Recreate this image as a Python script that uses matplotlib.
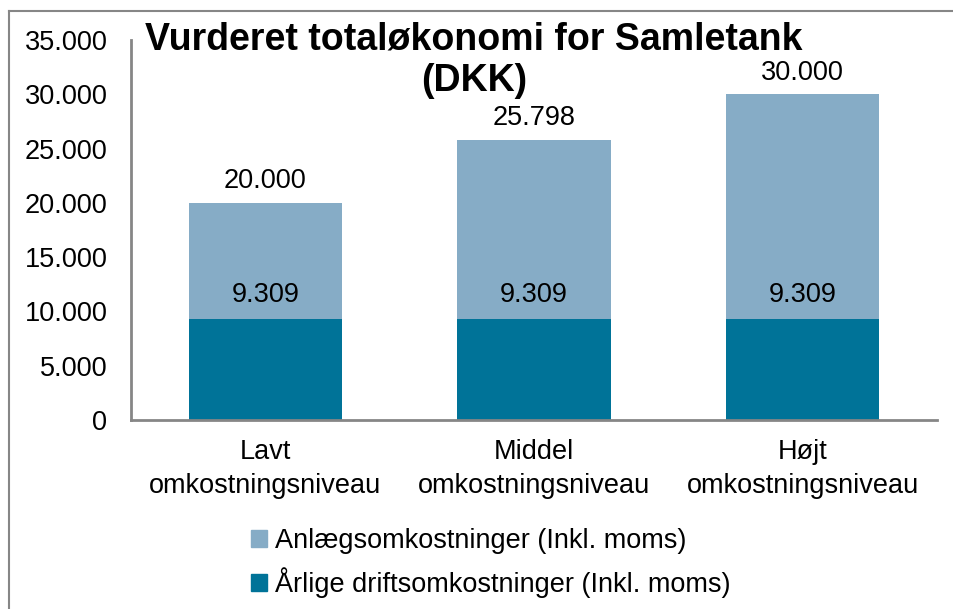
import matplotlib
matplotlib.use("Agg")
import matplotlib.pyplot as plt
from matplotlib.lines import Line2D
from matplotlib.patches import Patch
from matplotlib.ticker import FuncFormatter

plt.rcParams['font.family'] = ['Liberation Sans', 'DejaVu Sans']

categories = ["Lavt\nomkostningsniveau", "Middel\nomkostningsniveau", "Højt\nomkostningsniveau"]
drift = [9309, 9309, 9309]            # Årlige driftsomkostninger
totals = [20000, 25798, 30000]        # total (bar top)
anlaeg = [t - d for t, d in zip(totals, drift)]
series_names = ["Anlægsomkostninger (Inkl. moms)", "Årlige driftsomkostninger (Inkl. moms)"]
title = "Vurderet totaløkonomi for Samletank\n(DKK)"

c_light = "#86ACC6"
c_dark = "#007398"
grey = "#868686"
fs = 19.5

W, H = 954, 609
fig = plt.figure(figsize=(W / 100, H / 100), dpi=100)

# outer border (left and top visible)
fig.add_artist(Line2D([9.5 / W, 9.5 / W], [0, 1 - 10.5 / H], transform=fig.transFigure,
                      color=grey, linewidth=1.5))
fig.add_artist(Line2D([9.5 / W, 1], [1 - 10.5 / H, 1 - 10.5 / H], transform=fig.transFigure,
                      color=grey, linewidth=1.5))

ax = fig.add_axes([131 / W, 1 - 420 / H, (937 - 131) / W, (420 - 40) / H])
x = list(range(len(categories)))
bw = 0.57
ax.bar(x, drift, width=bw, color=c_dark, label=series_names[1])
ax.bar(x, anlaeg, width=bw, bottom=drift, color=c_light, label=series_names[0])

ax.set_xlim(-0.5, 2.5)
ax.set_ylim(0, 35000)
ax.set_yticks(range(0, 35001, 5000))
ax.yaxis.set_major_formatter(FuncFormatter(lambda v, p: f"{int(v):,}".replace(",", ".")))
ax.set_xticks(x)
ax.set_xticklabels(categories, fontsize=fs, linespacing=1.36)
ax.tick_params(axis='y', length=0, labelsize=fs, pad=17)
ax.tick_params(axis='x', length=0, pad=14)
for s in ['top', 'right']:
    ax.spines[s].set_visible(False)
for s in ['left', 'bottom']:
    ax.spines[s].set_color(grey)
    ax.spines[s].set_linewidth(2)

fmt = lambda v: f"{v:,}".replace(",", ".")
for i in x:
    ax.text(i, totals[i] + 800, fmt(totals[i]), ha='center', va='bottom', fontsize=fs)
    ax.text(i, drift[i] + 1000, fmt(drift[i]), ha='center', va='bottom', fontsize=fs)

fig.text(474 / W, 1 - 60 / H, title, ha='center', va='center', fontsize=27,
         fontweight='bold', linespacing=1.2)

handles = [Patch(color=c_light), Patch(color=c_dark)]
fig.legend(handles, series_names, loc='upper left', bbox_to_anchor=(251 / W, 1 - 528 / H),
           frameon=False, fontsize=fs, handlelength=0.58, handleheight=0.58,
           handletextpad=0.3, labelspacing=0.5, borderaxespad=0, borderpad=0)

fig.savefig("out.png", dpi=100)
